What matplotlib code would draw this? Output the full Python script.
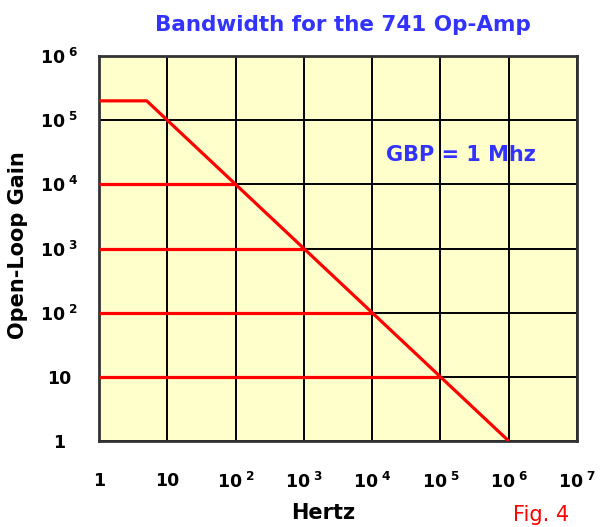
import numpy as np
import matplotlib.pyplot as plt

# decades on both axes
x_ticks = [1, 10, 1e2, 1e3, 1e4, 1e5, 1e6, 1e7]
x_labels = ['1', '10', r'$\mathbf{10^{\ 2}}$', r'$\mathbf{10^{\ 3}}$', r'$\mathbf{10^{\ 4}}$',
            r'$\mathbf{10^{\ 5}}$', r'$\mathbf{10^{\ 6}}$', r'$\mathbf{10^{\ 7}}$']
y_ticks = [1, 10, 1e2, 1e3, 1e4, 1e5, 1e6]
y_labels = ['1', '10', r'$\mathbf{10^{\ 2}}$', r'$\mathbf{10^{\ 3}}$', r'$\mathbf{10^{\ 4}}$',
            r'$\mathbf{10^{\ 5}}$', r'$\mathbf{10^{\ 6}}$']

# open-loop response of the 741
resp_freq = [1, 5, 1e6]
resp_gain = [2e5, 2e5, 1]

# closed-loop gain levels, each one runs out to GBP / gain
gbp = 1e6
levels = [1e4, 1e3, 1e2, 10]

plt.rcParams['mathtext.fontset'] = 'dejavusans'

fig = plt.figure(figsize=(6, 5.27), dpi=100)
ax = fig.add_axes([99 / 600, 1 - 441 / 527, 478 / 600, 385 / 527])
ax.set_facecolor('#FFFFCC')

ax.plot(resp_freq, resp_gain, color='red', lw=2.3, solid_capstyle='butt', zorder=3)
for g in levels:
    ax.plot([1, gbp / g], [g, g], color='red', lw=2.3, solid_capstyle='butt', zorder=3)

ax.set_xscale('log')
ax.set_yscale('log')
ax.set_xlim(1, 1e7)
ax.set_ylim(1, 1e6)
ax.set_xticks(x_ticks)
ax.set_xticklabels(x_labels, fontsize=12.5, fontweight='bold')
ax.set_yticks(y_ticks)
ax.set_yticklabels(y_labels, fontsize=12.5, fontweight='bold', ha='center')
ax.minorticks_off()
ax.tick_params(axis='both', length=0)
ax.tick_params(axis='x', pad=22)
ax.tick_params(axis='y', pad=29)
ax.grid(True, color='black', lw=1.4, zorder=1)
ax.set_axisbelow(True)
for s in ax.spines.values():
    s.set_color('#333333')
    s.set_linewidth(2)

ax.text(10 ** 4.2, 10 ** 4.45, 'GBP = 1 Mhz', color='#3333FF', fontsize=15,
        fontweight='bold', va='center', ha='left')

fig.text(155 / 600, 1 - 25 / 527, 'Bandwidth for the 741 Op-Amp', color='#3333FF',
         fontsize=15.5, fontweight='bold', ha='left', va='center')
fig.text(18.5 / 600, 1 - 245 / 527, 'Open-Loop Gain', rotation=90, fontsize=15,
         fontweight='bold', ha='center', va='center')
fig.text(323 / 600, 1 - 513 / 527, 'Hertz', fontsize=15, fontweight='bold',
         ha='center', va='center')
fig.text(541 / 600, 1 - 515 / 527, 'Fig. 4', color='red', fontsize=15,
         ha='center', va='center')

fig.savefig('out.png', dpi=100)
